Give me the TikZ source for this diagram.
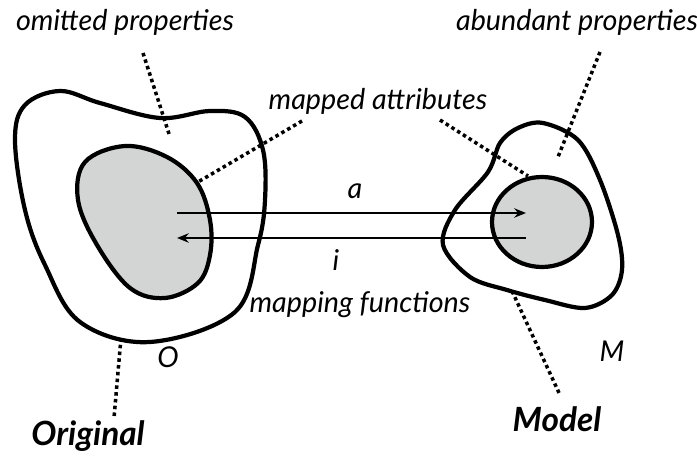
\documentclass[tikz,border=0pt]{standalone}
\usepackage{fontspec}
\setmainfont{Lato}
\usetikzlibrary{arrows.meta}
\definecolor{blobgrey}{RGB}{211,213,213}
\tikzset{
  blob/.style={line width=3.6pt, line join=round},
  leader/.style={line width=3pt, dash pattern=on 3pt off 2.8pt},
  maparrow/.style={line width=1.8pt, -{Stealth[length=10pt,width=8pt]}},
  lbl/.style={font=\fontsize{24.5}{28}\selectfont\itshape, inner sep=0pt},
  biglbl/.style={font=\fontsize{28.5}{32}\selectfont\bfseries\itshape, inner sep=0pt}
}
\begin{document}
\begin{tikzpicture}[x=0.03cm, y=-0.03cm]
  \useasboundingbox (0,0) rectangle (697,459);
  % original O
  \fill[blobgrey] plot[smooth cycle, tension=0.6] coordinates {(125,146) (167,157) (197,183) (210,220) (210,255) (198,283) (165,298) (130,288) (97,245) (78,200) (85,162)};
  \draw[blob] plot[smooth cycle, tension=0.6] coordinates {(15,140) (25,105) (60,91) (100,103) (160,118) (210,111) (245,117) (263,150) (265,200) (258,245) (235,312) (150,342) (80,322) (45,265) (25,210)};
  \draw[blob] plot[smooth cycle, tension=0.6] coordinates {(125,146) (167,157) (197,183) (210,220) (210,255) (198,283) (165,298) (130,288) (97,245) (78,200) (85,162)};
  % model M
  \draw[blob] plot[smooth cycle, tension=0.55] coordinates {(543,123) (578,140) (600,180) (618,235) (622,270) (612,295) (585,308) (545,300) (507,290) (470,277) (443,245) (455,210) (488,172) (500,143) (518,128)};
  \draw[blob, fill=blobgrey] (542,222) ellipse [x radius=50, y radius=45];

  % labels
  \node[lbl] (omitted) at (125,22) {omitted properties};
  \node[lbl] (abundant) at (577,22) {abundant properties};
  \node[lbl] (mapped) at (378,101) {mapped attributes};
  \node[lbl] (mapping) at (360,305) {mapping functions};
  \node[lbl] (lblA) at (355,191) {a};
  \node[lbl] (lblI) at (336,260) {i};
  \node[lbl] (lblO) at (168,357) {O};
  \node[lbl] (lblM) at (612,351) {M};
  \node[biglbl] (original) at (88,436) {Original};
  \node[biglbl] (model) at (557,419) {Model};

  % mapping arrows
  \coordinate (oA) at (177,213);
  \coordinate (mA) at (526,213);
  \coordinate (oI) at (177,238);
  \coordinate (mI) at (526,238);
  \draw[maparrow] (oA) -- (mA);
  \draw[maparrow] (mI) -- (oI);

  % leaders
  \coordinate (omitS) at (143,53);
  \coordinate (omitE) at (170,137);
  \coordinate (mapL) at (302,121);
  \coordinate (mapLE) at (198,182);
  \coordinate (mapR) at (440,120);
  \coordinate (mapRE) at (528,176);
  \coordinate (abunS) at (600,52);
  \coordinate (abunE) at (558,157);
  \coordinate (origS) at (121,338);
  \coordinate (origE) at (114,418);
  \coordinate (modS) at (512,291);
  \coordinate (modE) at (560,395);
  \draw[leader] (omitS) -- (omitE);
  \draw[leader] (mapL) -- (mapLE);
  \draw[leader] (mapR) -- (mapRE);
  \draw[leader] (abunS) -- (abunE);
  \draw[leader] (origS) -- (origE);
  \draw[leader] (modS) -- (modE);
\end{tikzpicture}
\end{document}
